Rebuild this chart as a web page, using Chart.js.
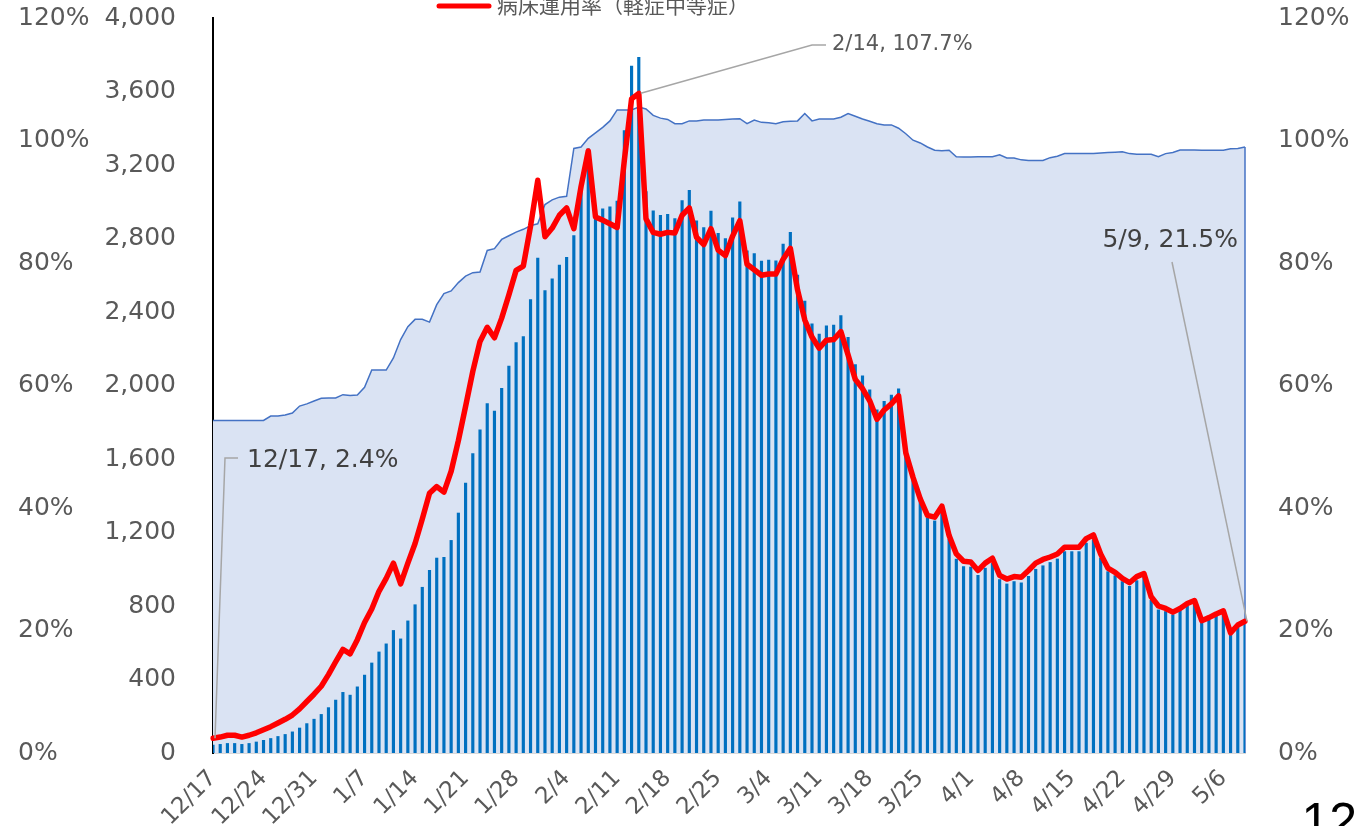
<!DOCTYPE html>
<html>
<head>
<meta charset="utf-8">
<script src="https://cdn.jsdelivr.net/npm/chart.js@4.4.0/dist/chart.umd.min.js"></script>
<style>
html, body { margin: 0; padding: 0; background: #fff; }
canvas { display: block; }
</style>
</head>
<body>
<canvas id="chart" width="1360" height="826"></canvas>
<script>
const dates = ("12/17 12/18 12/19 12/20 12/21 12/22 12/23 12/24 12/25 12/26 12/27 12/28 12/29 12/30 12/31 " +
  "1/1 1/2 1/3 1/4 1/5 1/6 1/7 1/8 1/9 1/10 1/11 1/12 1/13 1/14 1/15 1/16 1/17 1/18 1/19 1/20 1/21 1/22 1/23 1/24 1/25 1/26 1/27 1/28 1/29 1/30 1/31 " +
  "2/1 2/2 2/3 2/4 2/5 2/6 2/7 2/8 2/9 2/10 2/11 2/12 2/13 2/14 2/15 2/16 2/17 2/18 2/19 2/20 2/21 2/22 2/23 2/24 2/25 2/26 2/27 2/28 " +
  "3/1 3/2 3/3 3/4 3/5 3/6 3/7 3/8 3/9 3/10 3/11 3/12 3/13 3/14 3/15 3/16 3/17 3/18 3/19 3/20 3/21 3/22 3/23 3/24 3/25 3/26 3/27 3/28 3/29 3/30 3/31 " +
  "4/1 4/2 4/3 4/4 4/5 4/6 4/7 4/8 4/9 4/10 4/11 4/12 4/13 4/14 4/15 4/16 4/17 4/18 4/19 4/20 4/21 4/22 4/23 4/24 4/25 4/26 4/27 4/28 4/29 4/30 " +
  "5/1 5/2 5/3 5/4 5/5 5/6 5/7 5/8 5/9").split(" ");

// 病床運用率（軽症中等症） %
const bedRate = [
  2.4, 2.6, 2.9, 2.9, 2.6, 2.9, 3.3, 3.8, 4.3, 4.9,
  5.5, 6.2, 7.2, 8.4, 9.6, 10.9, 12.8, 14.9, 16.9, 16.2,
  18.5, 21.3, 23.5, 26.4, 28.5, 31.0, 27.6, 31.0, 34.2, 38.2,
  42.4, 43.5, 42.6, 46.0, 51.0, 56.6, 62.3, 67.2, 69.5, 67.8,
  71.0, 74.8, 78.8, 79.5, 86.0, 93.5, 84.3, 85.7, 87.8, 89.0,
  85.6, 92.5, 98.3, 87.5, 87.0, 86.4, 85.8, 96.8, 106.8, 107.7,
  87.2, 85.0, 84.7, 85.0, 84.9, 87.8, 89.0, 84.2, 83.0, 85.6,
  82.1, 81.2, 84.4, 86.9, 79.8, 78.9, 78.0, 78.2, 78.2, 80.6,
  82.4, 75.6, 70.7, 67.9, 66.1, 67.4, 67.5, 68.8, 65.0, 61.0,
  59.5, 57.5, 54.5, 56.0, 57.0, 58.3, 49.0, 45.0, 41.5, 38.8,
  38.5, 40.3, 35.5, 32.5, 31.3, 31.2, 29.8, 31.0, 31.8, 29.0,
  28.4, 28.8, 28.7, 29.8, 31.0, 31.6, 32.0, 32.5, 33.6, 33.6,
  33.6, 35.0, 35.6, 32.5, 30.2, 29.5, 28.5, 27.8, 28.8, 29.3,
  25.5, 24.0, 23.6, 23.0, 23.6, 24.4, 24.9, 21.6, 22.1, 22.7,
  23.2, 19.6, 20.9, 21.5
];

// 入院患者数（軽症中等症）
const patients = [
  43, 47, 52, 52, 47, 52, 60, 69, 79, 90,
  101, 115, 136, 160, 184, 210, 247, 288, 330, 315,
  360, 424, 490, 550, 594, 667, 621, 719, 807, 902,
  994, 1061, 1065, 1157, 1306, 1469, 1629, 1759, 1901, 1861,
  1984, 2106, 2234, 2266, 2468, 2693, 2516, 2580, 2656, 2697,
  2816, 3051, 3288, 2953, 2962, 2972, 3003, 3388, 3738, 3786,
  3056, 2950, 2926, 2931, 2908, 3007, 3062, 2896, 2859, 2949,
  2828, 2800, 2912, 3000, 2733, 2718, 2677, 2682, 2678, 2769,
  2833, 2601, 2460, 2336, 2280, 2325, 2329, 2380, 2262, 2114,
  2053, 1977, 1867, 1914, 1948, 1982, 1651, 1501, 1378, 1280,
  1263, 1321, 1164, 1055, 1015, 1012, 967, 1006, 1032, 944,
  920, 933, 926, 961, 1000, 1019, 1037, 1056, 1096, 1096,
  1096, 1142, 1161, 1061, 987, 965, 933, 907, 938, 955,
  831, 779, 770, 752, 775, 801, 817, 708, 725, 745,
  761, 644, 688, 709
];

// 確保病床数
const beds = [
  1810, 1810, 1810, 1810, 1810, 1810, 1810, 1810, 1834, 1834,
  1840, 1850, 1888, 1900, 1916, 1930, 1932, 1932, 1950, 1945,
  1948, 1990, 2084, 2084, 2084, 2150, 2250, 2320, 2360, 2360,
  2345, 2440, 2500, 2515, 2560, 2595, 2614, 2618, 2735, 2745,
  2795, 2815, 2835, 2850, 2870, 2880, 2985, 3010, 3025, 3030,
  3290, 3298, 3345, 3375, 3405, 3440, 3500, 3500, 3500, 3515,
  3505, 3470, 3455, 3448, 3425, 3425, 3440, 3440, 3445, 3445,
  3445, 3448, 3450, 3452, 3425, 3445, 3432, 3430, 3425, 3435,
  3438, 3440, 3480, 3440, 3450, 3450, 3450, 3460, 3480, 3465,
  3450, 3438, 3425, 3418, 3418, 3400, 3370, 3335, 3320, 3298,
  3280, 3278, 3280, 3245, 3243, 3243, 3245, 3245, 3245, 3255,
  3238, 3238, 3228, 3225, 3225, 3225, 3240, 3248, 3262, 3262,
  3262, 3262, 3262, 3265, 3268, 3270, 3272, 3262, 3258, 3258,
  3258, 3245, 3262, 3268, 3282, 3282, 3282, 3280, 3280, 3280,
  3280, 3288, 3290, 3298
];

const tickGray = "#595959";
const fontFamily = "'DejaVu Sans', sans-serif";

// callouts for three points of the red line
const callouts = [
  { index: 0, bend: [225, 458], end: [238, 458], text: [247, 460], align: "left", size: 25, color: "#404040" },
  { index: 59, bend: [812, 45], end: [826, 45], text: [832, 45], align: "left", size: 21, color: "#595959" },
  { index: 143, bend: null, end: [1172, 262], text: [1238, 240], align: "right", size: 25, color: "#404040" }
];

const noPad = s => { s.paddingTop = 0; s.paddingBottom = 0; };

const extras = {
  id: "extras",
  afterDatasetDraw(chart, args) {
    if (args.index !== 0) return;
    // right edge of the area
    const ctx = chart.ctx;
    const x = chart.scales.x.getPixelForValue(beds.length - 1);
    const y = chart.scales.yCount.getPixelForValue(beds[beds.length - 1]);
    ctx.save();
    ctx.strokeStyle = "#4472C4";
    ctx.lineWidth = 1.5;
    ctx.beginPath();
    ctx.moveTo(x, y);
    ctx.lineTo(x, chart.chartArea.bottom);
    ctx.stroke();
    ctx.restore();
  },
  afterDraw(chart) {
    const ctx = chart.ctx;
    const xs = chart.scales.x, ys = chart.scales.yPct;
    ctx.save();
    callouts.forEach(c => {
      const px = xs.getPixelForValue(c.index);
      const py = ys.getPixelForValue(bedRate[c.index]);
      ctx.strokeStyle = "#A6A6A6";
      ctx.lineWidth = 1.5;
      ctx.beginPath();
      ctx.moveTo(px + 2, py);
      if (c.bend) ctx.lineTo(c.bend[0], c.bend[1]);
      ctx.lineTo(c.end[0], c.end[1]);
      ctx.stroke();
      ctx.fillStyle = c.color;
      ctx.font = c.size + "px " + fontFamily;
      ctx.textAlign = c.align;
      ctx.textBaseline = "middle";
      ctx.fillText(dates[c.index] + ", " + bedRate[c.index] + "%", c.text[0], c.text[1]);
    });

    // legend (top, partly cut off)
    ctx.strokeStyle = "#FF0000";
    ctx.lineWidth = 5;
    ctx.lineCap = "round";
    ctx.beginPath();
    ctx.moveTo(439, 6);
    ctx.lineTo(489, 6);
    ctx.stroke();
    ctx.fillStyle = tickGray;
    ctx.font = "21px 'Noto Sans CJK JP', sans-serif";
    ctx.textAlign = "left";
    ctx.textBaseline = "middle";
    ctx.fillText("病床運用率（軽症中等症）", 497, 5);

    // page number
    ctx.fillStyle = "#000";
    ctx.font = "50px 'Liberation Sans', sans-serif";
    ctx.textAlign = "right";
    ctx.textBaseline = "alphabetic";
    ctx.fillText("12", 1357, 838);
    ctx.restore();
  }
};

new Chart(document.getElementById("chart"), {
  type: "bar",
  data: {
    labels: dates,
    datasets: [
      {
        type: "line",
        label: "確保病床数",
        data: beds,
        yAxisID: "yCount",
        fill: "origin",
        backgroundColor: "#DAE3F3",
        borderColor: "#4472C4",
        borderWidth: 1.5,
        pointRadius: 0,
        tension: 0,
        order: 3
      },
      {
        type: "bar",
        label: "入院患者数",
        data: patients,
        yAxisID: "yCount",
        backgroundColor: "#0070C0",
        barThickness: 2.5,
        order: 2
      },
      {
        type: "line",
        label: "病床運用率（軽症中等症）",
        data: bedRate,
        yAxisID: "yPct",
        borderColor: "#FF0000",
        borderWidth: 5.5,
        borderJoinStyle: "round",
        borderCapStyle: "round",
        pointRadius: 0,
        tension: 0,
        fill: false,
        order: 1
      }
    ]
  },
  options: {
    responsive: false,
    animation: false,
    layout: { padding: { left: 18, top: 18, right: 0, bottom: 0 } },
    plugins: {
      legend: { display: false },
      tooltip: { enabled: false }
    },
    scales: {
      x: {
        offset: false,
        grid: { display: false, drawTicks: false },
        border: { display: true, color: "#D9D9D9", width: 2 },
        ticks: {
          autoSkip: false,
          minRotation: 45,
          maxRotation: 45,
          padding: 12,
          color: tickGray,
          font: { size: 23, family: fontFamily },
          callback: (v, i) => (i % 7 === 0 ? dates[i] : "")
        },
        afterFit: s => { s.height = 73; s.paddingLeft = 0; s.paddingRight = 0; }
      },
      yCount: {
        position: "left",
        weight: 0,
        min: 0,
        max: 4000,
        grid: { display: false, drawTicks: false },
        border: { display: true, color: "#000", width: 2 },
        ticks: {
          stepSize: 400,
          padding: 37,
          color: tickGray,
          font: { size: 25, family: fontFamily },
          callback: v => v.toLocaleString("en-US")
        },
        afterFit: s => { s.width = 109; noPad(s); }
      },
      yPctLeft: {
        position: "left",
        weight: 1,
        min: 0,
        max: 120,
        grid: { display: false, drawTicks: false },
        border: { display: false },
        ticks: {
          stepSize: 20,
          crossAlign: "far",
          color: tickGray,
          font: { size: 25, family: fontFamily },
          callback: v => v + "%"
        },
        afterFit: s => { s.width = 86; noPad(s); }
      },
      yPct: {
        position: "right",
        min: 0,
        max: 120,
        grid: { display: false, drawTicks: false },
        border: { display: false },
        ticks: {
          stepSize: 20,
          padding: 33,
          color: tickGray,
          font: { size: 25, family: fontFamily },
          callback: v => v + "%"
        },
        afterFit: s => { s.width = 115; noPad(s); }
      }
    }
  },
  plugins: [extras]
});
</script>
</body>
</html>
